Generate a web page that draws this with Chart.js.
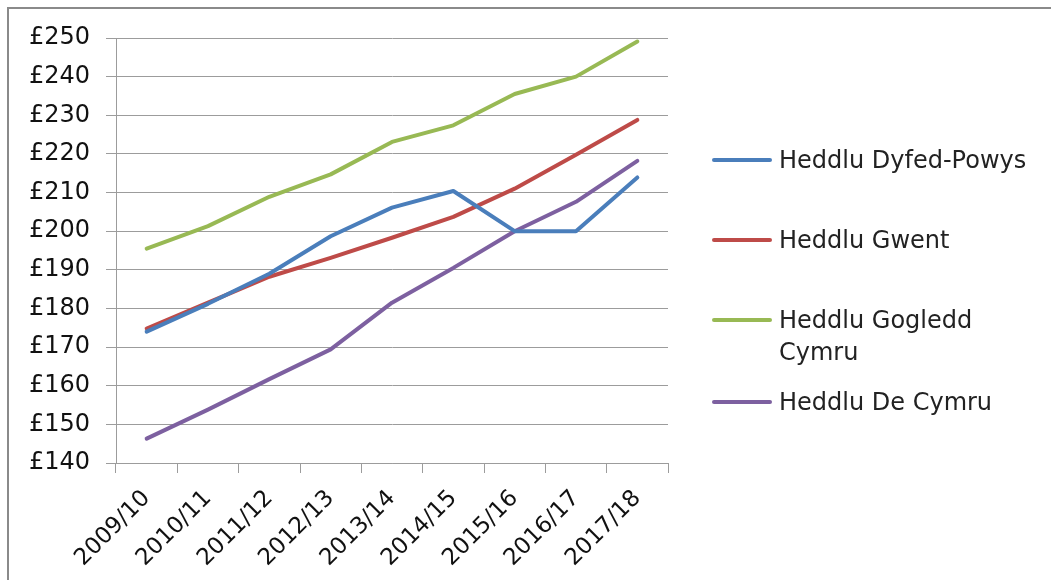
<!DOCTYPE html>
<html>
<head>
<meta charset="utf-8">
<script src="https://cdn.jsdelivr.net/npm/chart.js@4"></script>
<style>
  html, body { margin: 0; padding: 0; background: #fff; }
  #wrap { position: relative; width: 1051px; height: 580px; overflow: hidden; }
  #frame { position: absolute; left: 7px; top: 7px; width: 1100px; height: 700px;
           border-top: 2px solid #8a8a8a; border-left: 2px solid #8a8a8a; }
  #chart { position: absolute; left: 0; top: 0; }
  .legend-item { position: absolute; left: 712px; font-family: "DejaVu Sans", sans-serif;
                 font-size: 24px; line-height: 32px; color: #222; }
  .legend-item .swatch { position: absolute; left: 0; width: 60px; height: 4px; border-radius: 2px; }
  .legend-item .txt { position: absolute; left: 67px; top: 0; white-space: nowrap; }
</style>
</head>
<body>
<div id="wrap">
  <div id="frame"></div>
  <canvas id="chart" width="1051" height="580"></canvas>
  <div id="legend"></div>
</div>
<script>
// Data
const years = ['2009/10', '2010/11', '2011/12', '2012/13', '2013/14', '2014/15', '2015/16', '2016/17', '2017/18'];
const dyfedPowys = [174.0, 181.2, 189.0, 198.7, 206.1, 210.4, 200.0, 200.0, 213.9];
const gwent      = [174.8, 181.5, 188.2, 193.1, 198.3, 203.7, 211.0, 219.8, 228.8];
const gogledd    = [195.5, 201.3, 208.9, 214.7, 223.1, 227.4, 235.5, 240.0, 249.1];
const deCymru    = [146.3, 153.8, 161.7, 169.4, 181.5, 190.5, 200.0, 207.6, 218.2];

const seriesNames = ['Heddlu Dyfed-Powys', 'Heddlu Gwent', ['Heddlu Gogledd', 'Cymru'], 'Heddlu De Cymru'];
const seriesColors = ['#4a7ebb', '#be4b48', '#98b954', '#7d60a0'];
const seriesValues = [dyfedPowys, gwent, gogledd, deCymru];

const yMin = 140, yMax = 250, yStep = 10;

const gridColor = '#9c9c9c';

const chart = new Chart(document.getElementById('chart'), {
    type: 'line',
    data: {
        labels: years,
        datasets: seriesValues.map((vals, i) => ({
            label: Array.isArray(seriesNames[i]) ? seriesNames[i].join(' ') : seriesNames[i],
            data: vals,
            borderColor: seriesColors[i],
            backgroundColor: seriesColors[i],
            borderWidth: 4,
            pointRadius: 0,
            tension: 0,
            borderJoinStyle: 'round',
            borderCapStyle: 'round'
        }))
    },
    options: {
        responsive: false,
        animation: false,
        layout: { padding: { left: 0, top: 38, right: 383, bottom: 0 } },
        plugins: { legend: { display: false }, tooltip: { enabled: false } },
        scales: {
            x: {
                offset: true,
                grid: { display: true, drawOnChartArea: false, offset: true, color: gridColor, tickLength: 10, lineWidth: 1 },
                border: { color: gridColor, width: 1 },
                ticks: { autoSkip: false, minRotation: 45, maxRotation: 45, color: '#111',
                         font: { family: 'DejaVu Sans', size: 23 }, padding: 12 },
                afterFit: (s) => { s.height = 117; }
            },
            y: {
                min: yMin,
                max: yMax,
                grid: { color: gridColor, tickLength: 10, lineWidth: 1 },
                border: { color: gridColor, width: 1 },
                ticks: { stepSize: yStep, color: '#111', font: { family: 'DejaVu Sans', size: 24 }, padding: 16,
                         callback: (v) => '£' + v },
                afterFit: (s) => { s.width = 116; }
            }
        }
    }
});

// Legend (HTML)
const legendTops = [144, 224, 304, 386];
const legendEl = document.getElementById('legend');
seriesNames.forEach((name, i) => {
    const item = document.createElement('div');
    item.className = 'legend-item';
    item.style.top = legendTops[i] + 'px';
    const sw = document.createElement('div');
    sw.className = 'swatch';
    sw.style.background = seriesColors[i];
    sw.style.top = '14px';
    const txt = document.createElement('div');
    txt.className = 'txt';
    txt.innerHTML = Array.isArray(name) ? name.join('<br>') : name;
    item.appendChild(sw);
    item.appendChild(txt);
    legendEl.appendChild(item);
});
</script>
</body>
</html>
